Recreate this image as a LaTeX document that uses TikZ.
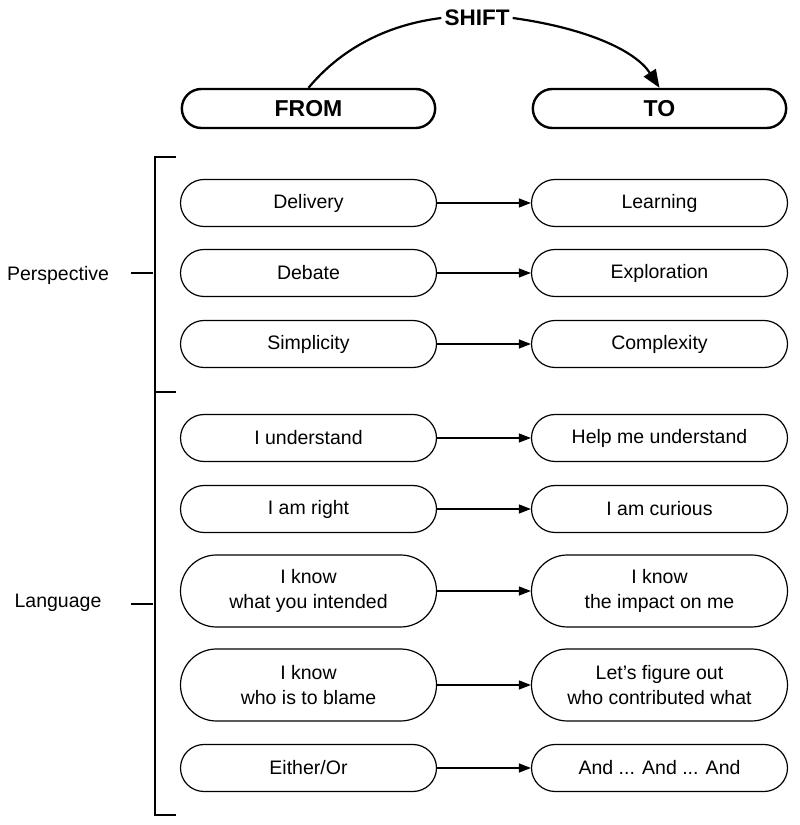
\documentclass[tikz,border=0pt]{standalone}
\usepackage{fontspec}
\setmainfont{Liberation Sans}
\usetikzlibrary{shapes.misc,arrows.meta}
\begin{document}
\begin{tikzpicture}[x=1pt,y=1pt,
  pill/.style={rounded rectangle, draw, line width=1.2pt, minimum width=260pt, minimum height=47pt, align=center, inner sep=2pt, font=\fontsize{19.5}{24.5}\selectfont},
  tall/.style={pill, minimum height=72pt},
  headpill/.style={rounded rectangle, draw, line width=2.4pt, minimum width=260pt, minimum height=39pt, font=\fontsize{23}{26}\selectfont\bfseries},
  flow/.style={line width=1.2pt, -{Triangle[length=12pt,width=9pt]}},
  brk/.style={line width=2.4pt},
  lbl/.style={font=\fontsize{19.5}{23}\selectfont}]
\useasboundingbox (0,0) rectangle (800,825);
% headers
\node[headpill] (from) at (308.5,716.5) {FROM};
\node[headpill] (to) at (659.5,716.5) {TO};
\node[font=\fontsize{22.5}{25}\selectfont\bfseries, inner sep=3pt] (shift) at (477,807) {SHIFT};
\draw[line width=2.2pt] (from.north) .. controls (340,775) and (385,800) .. (shift.west);
\draw[line width=2.2pt, -{Triangle[length=18pt,width=14pt]}] (shift.east) .. controls (585,797) and (635,775) .. (to.north);
% rows
\node[pill] (l1) at (308.5,622) {Delivery};
\node[pill] (r1) at (659.5,622) {Learning};
\node[pill] (l2) at (308.5,552) {Debate};
\node[pill] (r2) at (659.5,552) {Exploration};
\node[pill] (l3) at (308.5,481) {Simplicity};
\node[pill] (r3) at (659.5,481) {Complexity};
\node[pill] (l4) at (308.5,387) {I understand};
\node[pill] (r4) at (659.5,387) {Help me understand};
\node[pill] (l5) at (308.5,316) {I am right};
\node[pill] (r5) at (659.5,316) {I am curious};
\node[tall] (l6) at (308.5,234) {I know\\what you intended};
\node[tall] (r6) at (659.5,234) {I know\\the impact on me};
\node[tall] (l7) at (308.5,140) {I know\\who is to blame};
\node[tall] (r7) at (659.5,140) {Let's figure out\\who contributed what};
\node[pill] (l8) at (308.5,57) {Either/Or};
\node[pill] (r8) at (659.5,57) {And ... And ... And};
\foreach \i in {1,...,8} \draw[flow] (l\i.east) -- (r\i.west);
% bracket
\coordinate (bt) at (155,668);
\coordinate (bm) at (155,433);
\coordinate (bb) at (155,10);
\draw[brk] (176,668) -- (bt) -- (bb) -- (176,10);
\draw[brk] (bm) -- (176,433);
\node[lbl] (persp) at (58,550) {Perspective};
\node[lbl] (lang) at (58,222) {Language};
\coordinate (pt) at (153,552);
\coordinate (lt) at (153,221);
\draw[brk] (131,552) -- (pt);
\draw[brk] (131,221) -- (lt);
\end{tikzpicture}
\end{document}
